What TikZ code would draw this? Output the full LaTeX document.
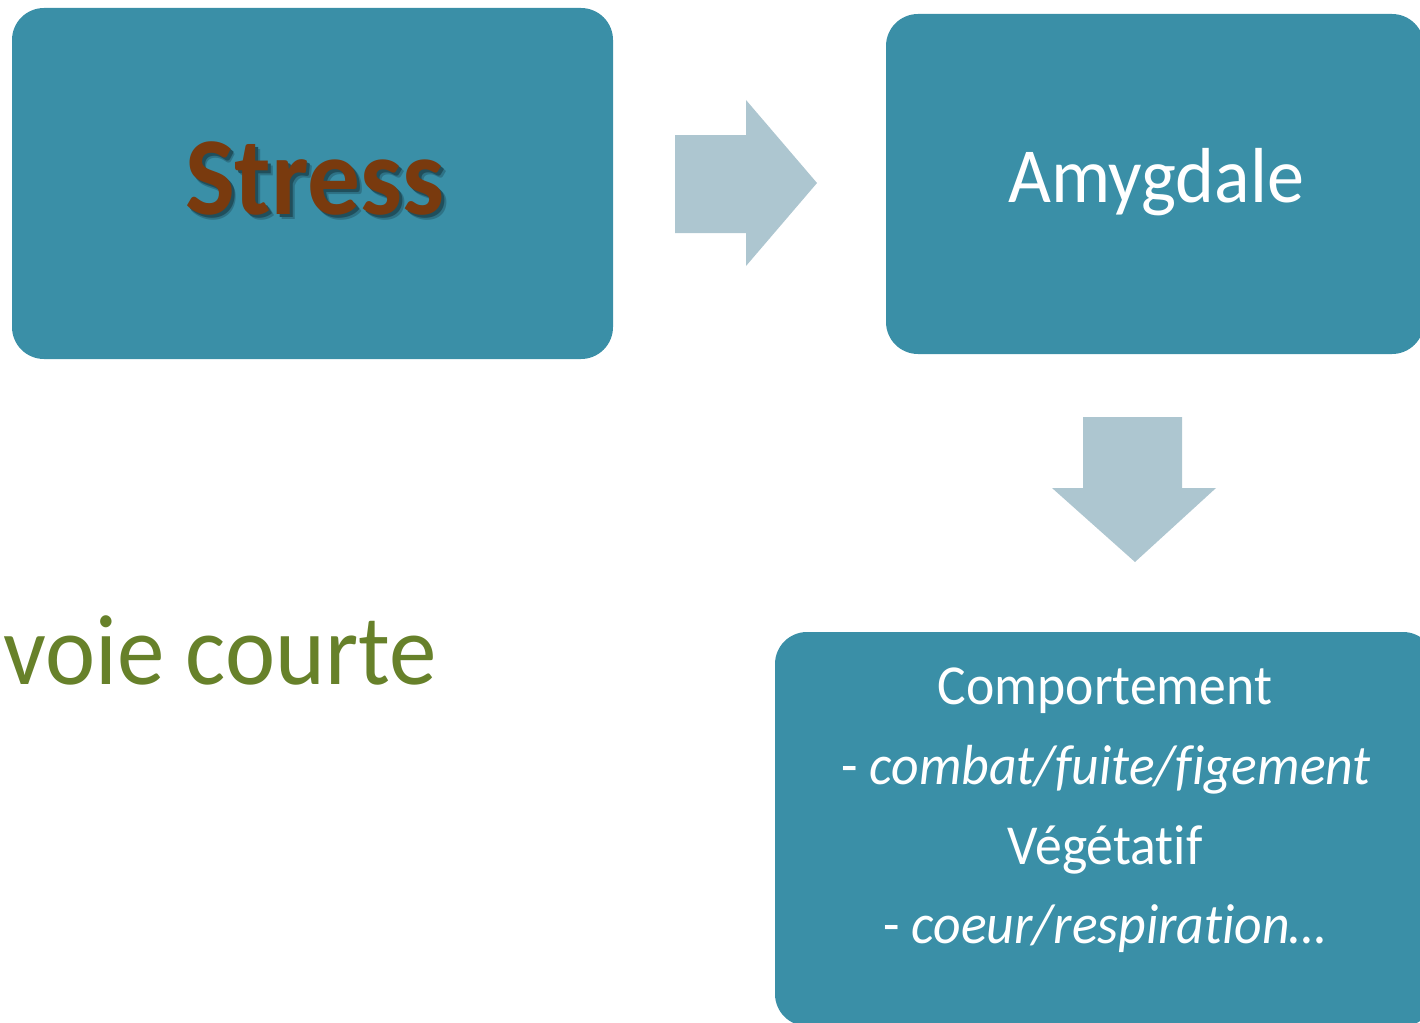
\documentclass[tikz,border=0pt]{standalone}
\usepackage{fontspec}
\setmainfont{Carlito}[FakeStretch=0.95, Ligatures=NoCommon]
\definecolor{boxteal}{RGB}{58,143,167}
\definecolor{arrowgrey}{RGB}{173,198,208}
\definecolor{stressbrown}{RGB}{121,58,14}
\definecolor{leafgreen}{RGB}{103,129,42}
% word set over a soft dark offset copy of itself
\newcommand{\shadowword}[1]{%
  \rlap{\hspace{4.5pt}\raisebox{-4.5pt}{\textcolor{boxteal!80!black}{#1}}}%
  \rlap{\hspace{3pt}\raisebox{-3pt}{\textcolor{boxteal!55!black}{#1}}}%
  \textcolor{stressbrown}{#1}}
\begin{document}
\begin{tikzpicture}[x=1pt,y=-1pt,
  box/.style={fill=boxteal, rounded corners=32pt, inner sep=0pt},
  blockarrow/.style={fill=arrowgrey},
  lbl/.style={inner sep=0pt, text=white},
  linefont/.style={font=\fontsize{56.5}{60}\selectfont}]
\useasboundingbox (0,0) rectangle (1420,1022);
\clip (0,0) rectangle (1420,1022);

% process boxes
\node[box, minimum width=601pt, minimum height=351pt] (stress) at (312.5,183.5) {};
\node[box, minimum width=538pt, minimum height=340pt] (amyg) at (1155,184) {};
\node[box, minimum width=660pt, minimum height=394pt] (resp) at (1105,829) {};

% box titles
\node[inner sep=0pt] (stresslbl) at (315,181)
  {\fontsize{111}{114}\selectfont\bfseries\shadowword{Stress}};
\node[lbl] (amyglbl) at (1156,182) {\fontsize{78}{80}\selectfont Amygdale};

% response lines
\node[lbl, linefont, anchor=base] (l1) at (1105,704) {Comportement};
\node[lbl, linefont, anchor=base] (l2) at (1106,784) {- \textit{combat/fuite/figement}};
\node[lbl, linefont, anchor=base] (l3) at (1105,864) {Végétatif};
\node[lbl, linefont, anchor=base] (l4) at (1105,943) {- \textit{coeur/respiration…}};

% side label
\node[inner sep=0pt, text=leafgreen, anchor=base west] (voie) at (3,684)
  {\fontsize{100}{100}\selectfont voie courte};

% block arrows
\fill[blockarrow] (675,135) -- (746,135) -- (746,100) -- (817,183)
  -- (746,266) -- (746,233) -- (675,233) -- cycle;
\fill[blockarrow] (1083,417) -- (1182,417) -- (1182,488) -- (1216,488)
  -- (1135,562) -- (1052,488) -- (1083,488) -- cycle;
\end{tikzpicture}
\end{document}
